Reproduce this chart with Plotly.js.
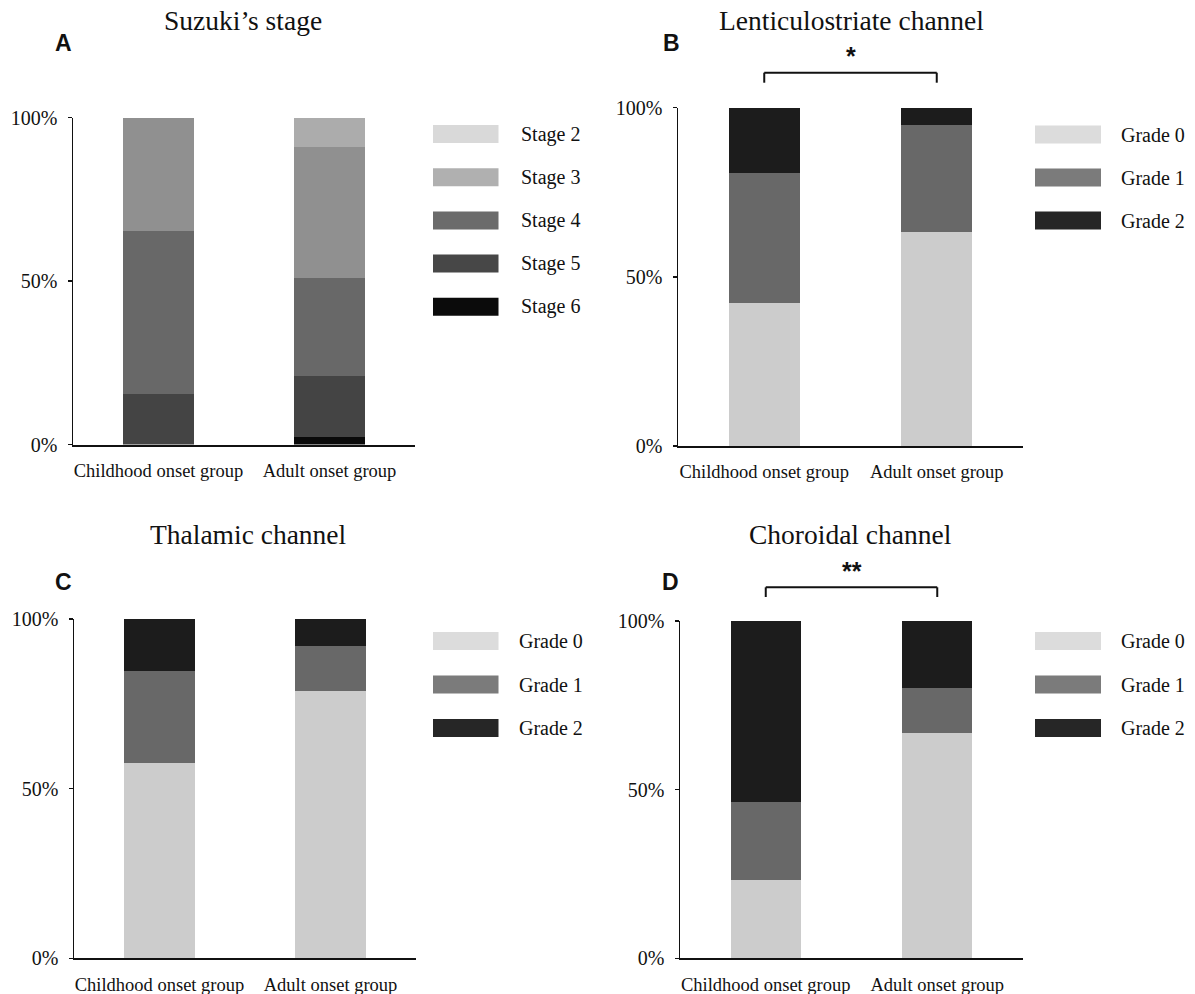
<!DOCTYPE html>
<html>
<head>
<meta charset="utf-8">
<script src="https://cdn.plot.ly/plotly-3.0.1.min.js"></script>
<style>html,body{margin:0;padding:0;background:#fff;}#chart{width:1195px;height:994px;}</style>
</head>
<body>
<div id="chart"></div>
<script>
// ---------- DATA ----------
const categories = ['Childhood onset group', 'Adult onset group'];

// Panel A: Suzuki's stage (percent), stacked bottom -> top
const stageNames = ['Stage 6', 'Stage 5', 'Stage 4', 'Stage 3', 'Stage 2'];
const stage6 = [0, 2.2];
const stage5 = [15.4, 18.6];
const stage4 = [50.0, 30.0];
const stage3 = [34.6, 40.3];
const stage2 = [0, 8.9];

// Grade names
const gradeNames = ['Grade 0', 'Grade 1', 'Grade 2'];

// Panel B: Lenticulostriate channel
const lentiGrade0 = [42.3, 63.2];
const lentiGrade1 = [38.5, 31.6];
const lentiGrade2 = [19.2, 5.2];

// Panel C: Thalamic channel
const thalGrade0 = [57.7, 78.9];
const thalGrade1 = [26.9, 13.2];
const thalGrade2 = [15.4, 7.9];

// Panel D: Choroidal channel
const chorGrade0 = [23.1, 66.7];
const chorGrade1 = [23.1, 13.3];
const chorGrade2 = [53.8, 20.0];

const panelTitles = ['Suzuki\u2019s stage', 'Lenticulostriate channel', 'Thalamic channel', 'Choroidal channel'];
const panelLetters = ['A', 'B', 'C', 'D'];
const yTickVals = [0, 50, 100];
const yTickText = ['0%', '50%', '100%'];
const sigLabels = ['*', '**'];

// ---------- STYLE ----------
const W = 1195, H = 994;
const px = v => v / W;
const py = v => 1 - v / H;
const serif = 'Liberation Serif, Times New Roman, serif';
const sans = 'Liberation Sans, Arial, sans-serif';

const stageBarColors = ['#0a0a0a', '#444444', '#686868', '#909090', '#acacac'];
const stageLegendColors = ['#0b0b0b', '#474747', '#6b6b6b', '#b0b0b0', '#d9d9d9'];
const gradeBarColors = ['#cccccc', '#686868', '#1c1c1c'];
const gradeLegendColors = ['#dcdcdc', '#7b7b7b', '#262626'];

const barWidth = 0.41;

function bars(seriesList, names, colors, xa, ya) {
  return seriesList.map((vals, i) => ({
    type: 'bar', x: categories, y: vals, name: names[i],
    xaxis: xa, yaxis: ya, width: barWidth,
    marker: {color: colors[i], line: {width: 0}},
    showlegend: false, hoverinfo: 'skip'
  }));
}

const data = [].concat(
  bars([stage6, stage5, stage4, stage3, stage2], stageNames, stageBarColors, 'x', 'y'),
  bars([lentiGrade0, lentiGrade1, lentiGrade2], gradeNames, gradeBarColors, 'x2', 'y2'),
  bars([thalGrade0, thalGrade1, thalGrade2], gradeNames, gradeBarColors, 'x3', 'y3'),
  bars([chorGrade0, chorGrade1, chorGrade2], gradeNames, gradeBarColors, 'x4', 'y4')
);

// panel geometry in pixels: [xLeft, xRight, yTop(100%), yBottom(0%)]
const geo = [
  [73, 415, 117.5, 444.5],
  [678, 1023, 107.7, 446],
  [74, 416, 619, 958.3],
  [680, 1023, 621, 958.3]
];

function xAxis(g, anchor) {
  return {
    domain: [px(g[0]), px(g[1])], anchor: anchor, type: 'category',
    range: [-0.5, 1.5], showline: true, linewidth: 2, linecolor: '#111',
    ticks: '', showgrid: false, zeroline: false, fixedrange: true,
    ticklabelstandoff: 8,
    tickfont: {family: serif, size: 18.5, color: '#111'}
  };
}
function yAxis(g, anchor) {
  return {
    domain: [py(g[3]), py(g[2])], anchor: anchor, range: [0, 100],
    tickvals: yTickVals, ticktext: yTickText,
    showline: true, linewidth: 1.5, linecolor: '#111',
    ticks: 'outside', ticklen: 4, tickwidth: 1.5, tickcolor: '#111',
    ticklabelstandoff: 6,
    showgrid: false, zeroline: false, fixedrange: true,
    tickfont: {family: serif, size: 20, color: '#111'}
  };
}

const shapes = [];
const annotations = [];

// Titles
const titlePos = [[243.5, 21], [851, 20], [248, 534], [850, 534]];
panelTitles.forEach((t, i) => annotations.push({
  text: t, xref: 'paper', yref: 'paper', x: px(titlePos[i][0]), y: py(titlePos[i][1]),
  xanchor: 'center', yanchor: 'middle', showarrow: false,
  font: {family: serif, size: 27.5, color: '#111'}
}));

// Panel letters
const letterPos = [[64, 43], [671, 43], [64, 582], [670, 582]];
panelLetters.forEach((t, i) => annotations.push({
  text: '<b>' + t + '</b>', xref: 'paper', yref: 'paper', x: px(letterPos[i][0]), y: py(letterPos[i][1]),
  xanchor: 'center', yanchor: 'middle', showarrow: false,
  font: {family: sans, size: 23, color: '#111'}
}));

// Custom legends; order = list of series indices from top row to bottom row
function legend(names, colors, order, swX0, swX1, textX, rowY0, rowStep) {
  order.forEach((idx, k) => {
    const cy = rowY0 + k * rowStep;
    shapes.push({
      type: 'rect', xref: 'paper', yref: 'paper',
      x0: px(swX0), x1: px(swX1), y0: py(cy - 9), y1: py(cy + 9),
      fillcolor: colors[idx], line: {width: 0}
    });
    annotations.push({
      text: names[idx], xref: 'paper', yref: 'paper', x: px(textX), y: py(cy),
      xanchor: 'left', yanchor: 'middle', showarrow: false,
      font: {family: serif, size: 20, color: '#111'}
    });
  });
}
legend(stageNames, stageLegendColors, [4, 3, 2, 1, 0], 433, 498.5, 519, 134, 43.2);
legend(gradeNames, gradeLegendColors, [0, 1, 2], 1035, 1101, 1119, 134.5, 43);
legend(gradeNames, gradeLegendColors, [0, 1, 2], 433, 498.5, 517, 641, 43.5);
legend(gradeNames, gradeLegendColors, [0, 1, 2], 1035, 1101, 1119, 641, 43.5);

// Significance brackets
const brackets = [['x2', 72.7, 82.7, 56], ['x4', 587.3, 597, 571]];
brackets.forEach((b, i) => {
  shapes.push({type: 'line', xref: b[0], yref: 'paper', x0: 0, x1: 1, y0: py(b[1]), y1: py(b[1]), line: {color: '#111', width: 2}});
  shapes.push({type: 'line', xref: b[0], yref: 'paper', x0: 0, x1: 0, y0: py(b[1]), y1: py(b[2]), line: {color: '#111', width: 2}});
  shapes.push({type: 'line', xref: b[0], yref: 'paper', x0: 1, x1: 1, y0: py(b[1]), y1: py(b[2]), line: {color: '#111', width: 2}});
  annotations.push({
    text: '<b>' + sigLabels[i] + '</b>', xref: b[0], yref: 'paper', x: 0.5, y: py(b[3]),
    xanchor: 'center', yanchor: 'middle', showarrow: false,
    font: {family: sans, size: 25, color: '#111'}
  });
});

const layout = {
  width: W, height: H,
  margin: {l: 0, r: 0, t: 0, b: 0},
  paper_bgcolor: '#fff', plot_bgcolor: '#fff',
  barmode: 'stack', showlegend: false,
  xaxis: xAxis(geo[0], 'y'), yaxis: yAxis(geo[0], 'x'),
  xaxis2: xAxis(geo[1], 'y2'), yaxis2: yAxis(geo[1], 'x2'),
  xaxis3: xAxis(geo[2], 'y3'), yaxis3: yAxis(geo[2], 'x3'),
  xaxis4: xAxis(geo[3], 'y4'), yaxis4: yAxis(geo[3], 'x4'),
  shapes: shapes, annotations: annotations
};

Plotly.newPlot('chart', data, layout, {displayModeBar: false, staticPlot: true});
</script>
</body>
</html>
